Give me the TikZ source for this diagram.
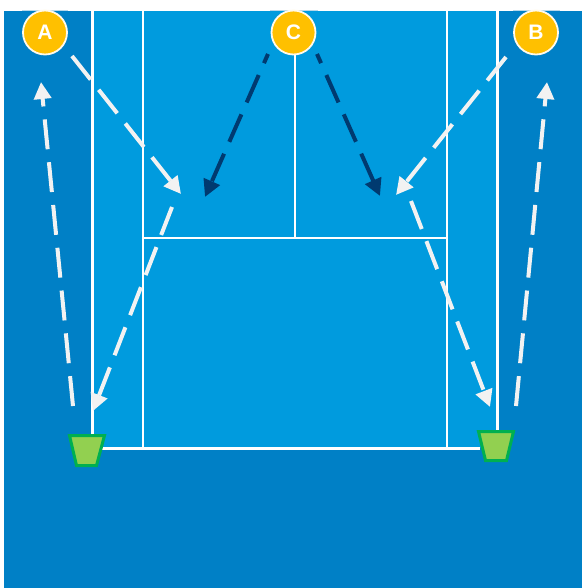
\documentclass[tikz,border=0pt]{standalone}
\usepackage{fontspec}
\setmainfont{Liberation Sans}
\usetikzlibrary{arrows.meta}
\definecolor{outer}{HTML}{0080C6}
\definecolor{court}{HTML}{009BDE}
\definecolor{ball}{HTML}{FFC000}
\definecolor{navy}{HTML}{003A70}
\definecolor{shot}{HTML}{F2F2F2}
\definecolor{binfill}{HTML}{92D050}
\definecolor{binedge}{HTML}{00B050}
\definecolor{halo}{HTML}{B8D8EA}
\tikzset{
  courtline/.style={draw=white,line width=2.8pt},
  shotline/.style={line width=4pt,dash pattern=on 30pt off 13pt,-{Triangle[length=17pt,width=17pt]}},
  whiteshot/.style={shotline,draw=shot},
  navyshot/.style={shotline,draw=navy},
  player/.style={circle,draw=white!92!ball,line width=1.8pt,fill=ball,minimum size=44pt,inner sep=0pt,text=white,font=\fontsize{21pt}{21pt}\selectfont\bfseries},
  bin/.style={draw=binedge,fill=binfill,line width=3pt,line join=miter},
  strip/.style={draw=halo,line width=1pt}
}
\begin{document}
\begin{tikzpicture}[x=1pt,y=-1pt]
\useasboundingbox (0,0) rectangle (582,588);
\fill[white] (0,0) rectangle (582,588);
\fill[outer] (4,11) rectangle (582,588);
\fill[court] (92,11) rectangle (498,448);
% court lines
\coordinate (tl) at (92.5,11); \coordinate (tr) at (497.5,11);
\coordinate (il) at (143,11); \coordinate (ir) at (447,11);
\coordinate (bl) at (92.5,434); \coordinate (br) at (497.5,430);
\coordinate (ibl) at (143,448); \coordinate (ibr) at (447,448);
\coordinate (sl) at (143,238); \coordinate (sr) at (447,238);
\coordinate (sm) at (295,238);
\coordinate (bb1) at (100,448.5); \coordinate (bb2) at (480,448.5);
\draw[courtline] (tl) -- (bl);
\draw[courtline] (tr) -- (br);
\draw[courtline] (il) -- (ibl);
\draw[courtline] (ir) -- (ibr);
\draw[courtline] (sl) -- (sr);
\draw[courtline] (bb1) -- (bb2);
% top strips beside the players
\coordinate (sa1) at (22,10.5); \coordinate (sa2) at (68,10.5);
\coordinate (sc1) at (270,10.5); \coordinate (sc2) at (318,10.5);
\coordinate (sb1) at (513,10.5); \coordinate (sb2) at (560,10.5);
\draw[strip] (sa1) -- (sa2);
\draw[strip] (sc1) -- (sc2);
\draw[strip] (sb1) -- (sb2);
% players
\node[player] (A) at (45,32.5) {A};
\node[player] (C) at (293.5,32.5) {C};
\node[player] (B) at (536,32.5) {B};
\draw[courtline] (C.south -| sm) -- (sm);
% bins
\draw[bin] (69.5,435.5) -- (104.5,435.5) -- (96.5,465.5) -- (76.5,465.5) -- cycle;
\draw[bin] (478.5,431.5) -- (513.5,431.5) -- (506.5,460.5) -- (485.5,460.5) -- cycle;
% shot ends
\coordinate (a0) at (72,56); \coordinate (a1) at (181,194);
\coordinate (c0) at (268,54); \coordinate (c1) at (205,197);
\coordinate (d0) at (317,54); \coordinate (d1) at (380,196);
\coordinate (b0) at (506,57); \coordinate (b1) at (396,195);
\coordinate (e0) at (172,207); \coordinate (e1) at (93,411);
\coordinate (f0) at (411,201); \coordinate (f1) at (490,407);
\coordinate (g0) at (73,406); \coordinate (g1) at (41,82);
\coordinate (h0) at (516,406); \coordinate (h1) at (547,82);
\draw[whiteshot] (a0) -- (a1);
\draw[whiteshot] (b0) -- (b1);
\draw[navyshot,dash phase=20pt] (c0) -- (c1);
\draw[navyshot,dash phase=20pt] (d0) -- (d1);
\draw[whiteshot] (e0) -- (e1);
\draw[whiteshot] (f0) -- (f1);
\draw[whiteshot] (g0) -- (g1);
\draw[whiteshot] (h0) -- (h1);
\end{tikzpicture}
\end{document}
